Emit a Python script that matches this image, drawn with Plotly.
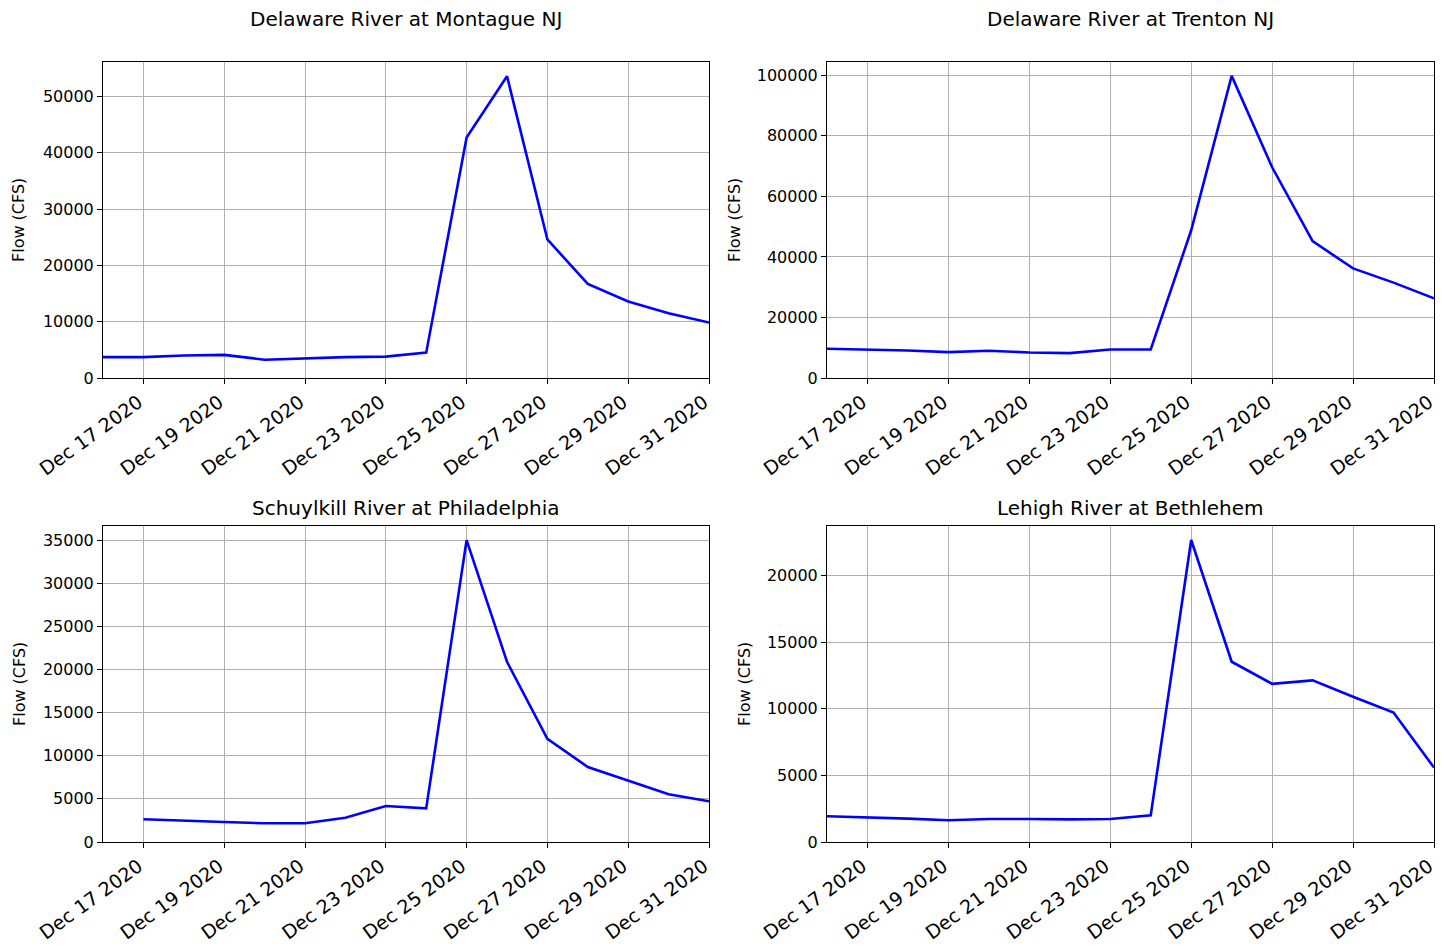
import plotly.graph_objects as go

# ---------------- data ----------------
dates_full = ["2020-12-16", "2020-12-17", "2020-12-18", "2020-12-19", "2020-12-20",
              "2020-12-21", "2020-12-22", "2020-12-23", "2020-12-24", "2020-12-25",
              "2020-12-26", "2020-12-27", "2020-12-28", "2020-12-29", "2020-12-30",
              "2020-12-31"]
dates_schuylkill = dates_full[1:]

montague = [3700, 3700, 4000, 4100, 3250, 3500, 3700, 3800, 4500, 42700,
            53600, 24600, 16700, 13600, 11500, 9860]
trenton = [9650, 9430, 9100, 8550, 9000, 8440, 8220, 9430, 9430, 48800,
           99800, 69600, 45200, 36200, 31500, 26300]
schuylkill = [2630, 2440, 2320, 2170, 2170, 2820, 4180, 3900, 35000,
              20900, 11950, 8700, 7150, 5530, 4720]
lehigh = [1930, 1850, 1750, 1630, 1730, 1730, 1700, 1730, 2000, 22650,
          13520, 11860, 12120, 10890, 9710, 5580]

titles = ["Delaware River at Montague NJ", "Delaware River at Trenton NJ",
          "Schuylkill River at Philadelphia", "Lehigh River at Bethlehem"]
y_label = "Flow (CFS)"
y_dticks = [10000, 20000, 5000, 5000]
x_tick0 = "2020-12-17"
x_range = ["2020-12-16", "2020-12-31"]

series = [(dates_full, montague), (dates_full, trenton),
          (dates_schuylkill, schuylkill), (dates_full, lehigh)]

# ---------------- layout geometry ----------------
W, H = 1447, 947
ml, mr, mt, mb = 103, 13, 62, 105
pw = W - ml - mr
ph = H - mt - mb

def xd(a, b):
    return [(a - ml) / pw, (b - ml) / pw]

def yd(top, bot):
    return [(H - mb - bot) / ph, (H - mb - top) / ph]

domains = [
    (xd(103, 709), yd(62, 378)),
    (xd(827, 1434), yd(62, 378)),
    (xd(103, 709), yd(526, 842)),
    (xd(827, 1434), yd(526, 842)),
]

FONT = "DejaVu Sans"
fig = go.Figure()
layout = dict(
    width=W, height=H,
    margin=dict(l=ml, r=mr, t=mt, b=mb, autoexpand=False),
    paper_bgcolor="white", plot_bgcolor="white",
    showlegend=False,
    font=dict(family=FONT, size=16, color="#000000"),
)
annotations = []

for i, ((xs, ys), (xdom, ydom)) in enumerate(zip(series, domains)):
    n = "" if i == 0 else str(i + 1)
    fig.add_trace(go.Scatter(
        x=xs, y=ys, mode="lines",
        line=dict(color="#0000ff", width=2.6),
        xaxis="x" + n, yaxis="y" + n,
    ))
    ymax = max(ys) + 0.05 * (max(ys) - min(ys))
    layout["xaxis" + n] = dict(
        domain=xdom, anchor="y" + n, type="date",
        range=x_range, tick0=x_tick0, dtick=2 * 86400000,
        tickformat="%b %d %Y", tickangle=-36,
        showgrid=True, gridcolor="#b0b0b0", gridwidth=1,
        showline=True, linecolor="#000000", linewidth=1, mirror=True,
        ticks="outside", ticklen=5, tickcolor="#000000",
        tickfont=dict(family=FONT, size=19, color="#000000"),
        ticklabelshift=-5,
        zeroline=False, automargin=False,
    )
    layout["yaxis" + n] = dict(
        domain=ydom, anchor="x" + n,
        range=[0, ymax], tick0=0, dtick=y_dticks[i], tickformat="d",
        showgrid=True, gridcolor="#b0b0b0", gridwidth=1,
        showline=True, linecolor="#000000", linewidth=1, mirror=True,
        ticks="outside", ticklen=5, tickcolor="#000000",
        tickfont=dict(family=FONT, size=16, color="#000000"),
        zeroline=False, automargin=False,
    )
    # subplot title
    title_y = 19 if i < 2 else 508
    annotations.append(dict(
        text=titles[i], xref="paper", yref="paper",
        x=(xdom[0] + xdom[1]) / 2, y=(H - mb - title_y) / ph,
        xanchor="center", yanchor="middle", showarrow=False,
        font=dict(family=FONT, size=20, color="#000000"),
    ))
    # y-axis label
    lab_x = [19, 735, 19, 744][i]
    lab_y = 220 if i < 2 else 684
    annotations.append(dict(
        text=y_label, xref="paper", yref="paper",
        x=(lab_x - ml) / pw, y=(H - mb - lab_y) / ph,
        xanchor="center", yanchor="middle", showarrow=False, textangle=-90,
        font=dict(family=FONT, size=16, color="#000000"),
    ))

layout["annotations"] = annotations
fig.update_layout(**layout)
fig.write_html(
    "out.html",
    config={"displayModeBar": False},
    post_script="document.body.style.margin='0';document.body.style.overflow='hidden';",
)
